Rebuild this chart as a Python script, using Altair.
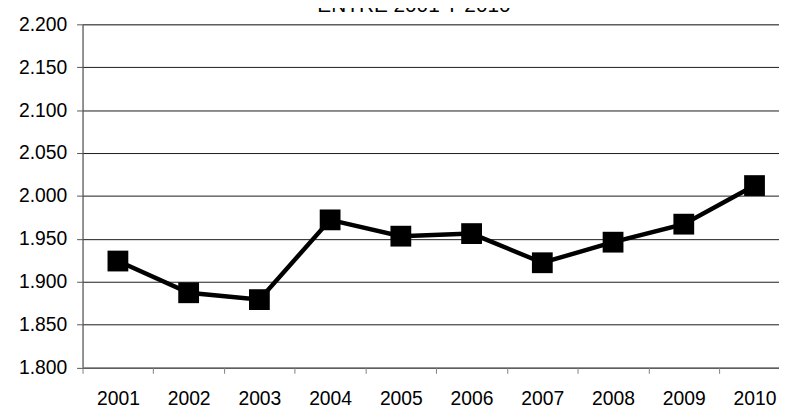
import altair as alt
import pandas as pd

years = ["2001", "2002", "2003", "2004", "2005", "2006", "2007", "2008", "2009", "2010"]
values = [1924, 1887, 1879, 1972, 1953, 1956, 1922, 1946, 1967, 2012]
y_ticks = [1800, 1850, 1900, 1950, 2000, 2050, 2100, 2150, 2200]
title_text = "ENTRE 2001 Y 2010"

df = pd.DataFrame({"year": years, "value": values})

FONT = "Liberation Sans"

x_enc = alt.X(
    "year:N",
    sort=years,
    scale=alt.Scale(type="band", paddingInner=0, paddingOuter=0, range=[0, 714.5]),
    axis=alt.Axis(
        title=None,
        tickBand="extent",
        ticks=True,
        tickSize=6,
        tickColor="#808080",
        domainColor="#808080",
        domainWidth=1.5,
        labelFont=FONT,
        labelFontSize=19.5,
        labelColor="#000000",
        labelPadding=17,
        labelAngle=0,
        grid=False,
    ),
)
y_enc = alt.Y(
    "value:Q",
    scale=alt.Scale(domain=[1800, 2200], nice=False, zero=False),
    axis=alt.Axis(
        title=None,
        values=y_ticks,
        tickSize=6,
        tickColor="#555555",
        domainColor="#555555",
        domainWidth=1.2,
        gridColor="#1a1a1a",
        gridWidth=1,
        labelFont=FONT,
        labelFontSize=19.5,
        labelColor="#000000",
        labelPadding=10,
        labelExpr="replace(format(datum.value, ','), ',', '.')",
    ),
)

base = alt.Chart(df).encode(x=x_enc, y=y_enc)
line = base.mark_line(color="#000000", strokeWidth=4.5)
pts = base.mark_point(shape="square", filled=True, size=441, color="#000000", opacity=1)

chart = (
    alt.layer(line, pts)
    .properties(
        width=703.5,
        height=346.5,
        autosize=alt.AutoSizeParams(type="none"),
        padding={"left": 75.3, "top": 14.5, "right": 0, "bottom": 37},
        title=alt.TitleParams(
            title_text,
            font=FONT,
            fontSize=21,
            fontWeight="normal",
            color="#000000",
            anchor="middle",
            baseline="alphabetic",
            offset=0,
            dx=-17,
            dy=19,
        ),
    )
    .configure_view(stroke=None)
    .configure(background="#ffffff")
)

chart.save("out.html", embed_options={"renderer": "svg", "actions": False})
